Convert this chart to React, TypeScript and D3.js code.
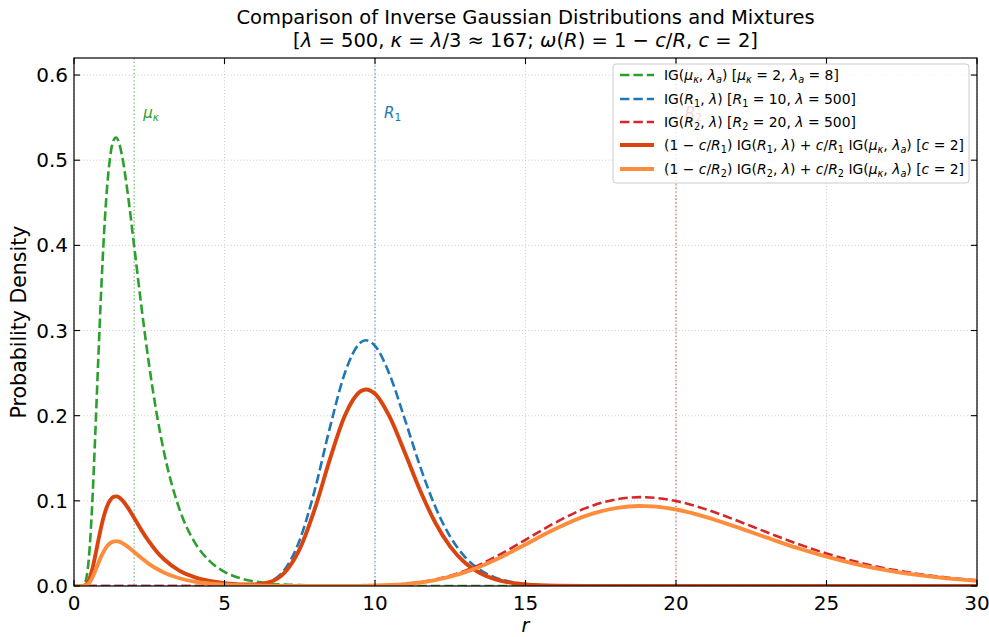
import * as d3 from "d3";

// shared grid of r values
const rGrid = [
  0, 0.2, 0.3, 0.4, 0.5, 0.6, 0.7, 0.8, 0.9, 1.0, 1.1, 1.2, 1.3, 1.4, 1.5, 1.6, 1.8, 2.0,
  2.25, 2.5, 2.75, 3.0, 3.5, 4.0, 4.5, 5.0, 5.5, 6.0, 6.5, 7.0, 7.5, 8.0, 8.5, 9.0, 9.5,
  9.7, 10, 10.5, 11, 11.5, 12, 12.5, 13, 13.5, 14, 14.5, 15, 16, 17, 18, 18.8, 19, 20, 21,
  22, 23, 24, 25, 26, 27, 28, 29, 30,
];

const igKappa = [
  0, 0, 0.0005, 0.0074, 0.0355, 0.0926, 0.1723, 0.2607, 0.3445, 0.4151, 0.4684, 0.5036,
  0.5223, 0.5267, 0.5199, 0.5045, 0.457, 0.3989, 0.3252, 0.2583, 0.2017, 0.1556, 0.0906,
  0.0519, 0.0295, 0.0167, 0.0094, 0.0053, 0.003, 0.0017, 0.001, 0.00055, 0.0003, 0.00018,
  0.0001, 0.00009, 0.00006, 0.00003, 0.00002, 0, 0, 0, 0, 0, 0, 0, 0, 0, 0, 0, 0, 0, 0, 0,
  0, 0, 0, 0, 0, 0, 0, 0, 0,
];

const igR1 = [
  0, 0, 0, 0, 0, 0, 0, 0, 0, 0, 0, 0, 0, 0, 0, 0, 0, 0, 0, 0, 0, 0, 0, 0, 0, 0.000003,
  0.00007, 0.00077, 0.00484, 0.01935, 0.05408, 0.11295, 0.18573, 0.25026, 0.28526, 0.2885,
  0.28209, 0.24704, 0.19481, 0.14026, 0.09326, 0.05783, 0.03371, 0.01861, 0.00978, 0.00492,
  0.00238, 0.0005, 0.00009, 0.00002, 0, 0, 0, 0, 0, 0, 0, 0, 0, 0, 0, 0, 0,
];

const igR2 = [
  0, 0, 0, 0, 0, 0, 0, 0, 0, 0, 0, 0, 0, 0, 0, 0, 0, 0, 0, 0, 0, 0, 0, 0, 0, 0, 0, 0, 0, 0,
  0, 0.000005, 0.00002, 0.00007, 0.00022, 0.00032, 0.00055, 0.00122, 0.00245, 0.00451,
  0.00766, 0.01212, 0.01805, 0.02543, 0.03414, 0.04386, 0.05418, 0.07461, 0.09142, 0.10166,
  0.10432, 0.10423, 0.09974, 0.08998, 0.07716, 0.06333, 0.05002, 0.0382, 0.02832, 0.02045,
  0.01443, 0.00997, 0.00676,
];

const mixR1 = [
  0, 0, 0.0001, 0.0015, 0.0071, 0.0185, 0.0345, 0.0521, 0.0689, 0.083, 0.0937, 0.1007,
  0.1045, 0.1053, 0.104, 0.1009, 0.0914, 0.0798, 0.065, 0.0517, 0.0403, 0.0311, 0.0181,
  0.0104, 0.0059, 0.0033, 0.0019, 0.0017, 0.0045, 0.0158, 0.0435, 0.0905, 0.1486, 0.2002,
  0.2282, 0.2308, 0.2257, 0.1976, 0.1558, 0.1122, 0.0746, 0.0463, 0.027, 0.0149, 0.0078,
  0.0039, 0.0019, 0.0004, 0.0001, 0, 0, 0, 0, 0, 0, 0, 0, 0, 0, 0, 0, 0, 0,
];

const mixR2 = [
  0, 0, 0.00005, 0.0007, 0.0035, 0.0093, 0.0172, 0.0261, 0.0345, 0.0415, 0.0468, 0.0504,
  0.0522, 0.0527, 0.052, 0.0505, 0.0457, 0.0399, 0.0325, 0.0258, 0.0202, 0.0156, 0.0091,
  0.0052, 0.0029, 0.0017, 0.0009, 0.0005, 0.0003, 0.0002, 0.0001, 0.00006, 0.00005, 0.00008,
  0.0002, 0.0003, 0.0005, 0.0011, 0.0022, 0.0041, 0.0069, 0.0109, 0.0162, 0.0229, 0.0307,
  0.0395, 0.0488, 0.0671, 0.0823, 0.0915, 0.0939, 0.0938, 0.0898, 0.081, 0.0694, 0.057,
  0.045, 0.0344, 0.0255, 0.0184, 0.013, 0.009, 0.0061,
];

const xTicks = [0, 5, 10, 15, 20, 25, 30];
const yTicks = [0, 0.1, 0.2, 0.3, 0.4, 0.5, 0.6];

const W = 989;
const H = 637;
const FONT = "DejaVu Sans, sans-serif";
const m = { left: 74, right: 977, top: 58, bottom: 586 };

const x = d3.scaleLinear().domain([0, 30]).range([m.left, m.right]);
const y = d3.scaleLinear().domain([0, 0.62]).range([m.bottom, m.top]);

type Part = { t: string; i?: boolean; sub?: boolean };

// poor man's mathtext: italic parts and subscripts as tspans
function MathText({ px, py, parts, size, anchor = "start", fill = "#000" }: any) {
  let inSub = false;
  return (
    <text x={px} y={py} fontSize={size} fontFamily={FONT} textAnchor={anchor} fill={fill}>
      {parts.map((p: Part, k: number) => {
        let dy = 0;
        if (p.sub && !inSub) dy = size * 0.22;
        if (!p.sub && inSub) dy = -size * 0.22;
        inSub = !!p.sub;
        return (
          <tspan
            key={k}
            dy={dy}
            fontStyle={p.i ? "italic" : "normal"}
            fontSize={p.sub ? size * 0.7 : size}
          >
            {p.t}
          </tspan>
        );
      })}
    </text>
  );
}

const series = [
  {
    vals: igKappa,
    color: "#2ca02c",
    dash: true,
    label: [
      { t: "IG(" }, { t: "μ", i: true }, { t: "κ", i: true, sub: true }, { t: ", " },
      { t: "λ", i: true }, { t: "a", i: true, sub: true }, { t: ") [" }, { t: "μ", i: true },
      { t: "κ", i: true, sub: true }, { t: " = 2, " }, { t: "λ", i: true },
      { t: "a", i: true, sub: true }, { t: " = 8]" },
    ],
  },
  {
    vals: igR1,
    color: "#1f77b4",
    dash: true,
    label: [
      { t: "IG(" }, { t: "R", i: true }, { t: "1", sub: true }, { t: ", " }, { t: "λ", i: true },
      { t: ") [" }, { t: "R", i: true }, { t: "1", sub: true }, { t: " = 10, " },
      { t: "λ", i: true }, { t: " = 500]" },
    ],
  },
  {
    vals: igR2,
    color: "#d62728",
    dash: true,
    label: [
      { t: "IG(" }, { t: "R", i: true }, { t: "2", sub: true }, { t: ", " }, { t: "λ", i: true },
      { t: ") [" }, { t: "R", i: true }, { t: "2", sub: true }, { t: " = 20, " },
      { t: "λ", i: true }, { t: " = 500]" },
    ],
  },
  {
    vals: mixR1,
    color: "#d9440f",
    dash: false,
    label: [
      { t: "(1 − " }, { t: "c", i: true }, { t: "/" }, { t: "R", i: true }, { t: "1", sub: true },
      { t: ") IG(" }, { t: "R", i: true }, { t: "1", sub: true }, { t: ", " }, { t: "λ", i: true },
      { t: ") + " }, { t: "c", i: true }, { t: "/" }, { t: "R", i: true }, { t: "1", sub: true },
      { t: " IG(" }, { t: "μ", i: true }, { t: "κ", i: true, sub: true }, { t: ", " },
      { t: "λ", i: true }, { t: "a", i: true, sub: true }, { t: ") [" }, { t: "c", i: true },
      { t: " = 2]" },
    ],
  },
  {
    vals: mixR2,
    color: "#fd8d3c",
    dash: false,
    label: [
      { t: "(1 − " }, { t: "c", i: true }, { t: "/" }, { t: "R", i: true }, { t: "2", sub: true },
      { t: ") IG(" }, { t: "R", i: true }, { t: "2", sub: true }, { t: ", " }, { t: "λ", i: true },
      { t: ") + " }, { t: "c", i: true }, { t: "/" }, { t: "R", i: true }, { t: "2", sub: true },
      { t: " IG(" }, { t: "μ", i: true }, { t: "κ", i: true, sub: true }, { t: ", " },
      { t: "λ", i: true }, { t: "a", i: true, sub: true }, { t: ") [" }, { t: "c", i: true },
      { t: " = 2]" },
    ],
  },
];

const markers = [
  { at: 2, color: "#2ca02c", label: [{ t: "μ", i: true }, { t: "κ", i: true, sub: true }] },
  { at: 10, color: "#1f77b4", label: [{ t: "R", i: true }, { t: "1", sub: true }] },
  { at: 20, color: "#d62728", label: [{ t: "R", i: true }, { t: "2", sub: true }] },
];

const titleLine2: Part[] = [
  { t: "[" }, { t: "λ", i: true }, { t: " = 500,  " }, { t: "κ", i: true }, { t: " = " },
  { t: "λ", i: true }, { t: "/3 ≈ 167;  " }, { t: "ω", i: true }, { t: "(" }, { t: "R", i: true },
  { t: ") = 1 − " }, { t: "c", i: true }, { t: "/" }, { t: "R", i: true }, { t: ",  " },
  { t: "c", i: true }, { t: " = 2]" },
];

export default function App() {
  const line = d3
    .line<number>()
    .x((_, i) => x(rGrid[i]))
    .y((d) => y(d))
    .curve(d3.curveMonotoneX);

  const tickLen = 6;
  const legY = [75, 99, 122, 145, 169];
  const dashW = 2.6;
  const solidW = 3.9;
  const dashPat = "9.4,4";

  return (
    <svg
      width={W}
      height={H}
      style={{ position: "absolute", left: 0, top: 0, background: "#fff" }}
      fontFamily={FONT}
    >
      <defs>
        <clipPath id="plot">
          <rect x={m.left} y={m.top} width={m.right - m.left} height={m.bottom - m.top} />
        </clipPath>
      </defs>

      {/* grid */}
      <g stroke="#b0b0b0" strokeWidth={0.8} strokeDasharray="1,2.2" opacity={0.8}>
        {xTicks.map((t) => (
          <line key={"gx" + t} x1={x(t)} x2={x(t)} y1={m.top} y2={m.bottom} />
        ))}
        {yTicks.map((t) => (
          <line key={"gy" + t} x1={m.left} x2={m.right} y1={y(t)} y2={y(t)} />
        ))}
      </g>

      {/* reference lines */}
      {markers.map((mk) => (
        <g key={mk.at}>
          <line
            x1={x(mk.at)}
            x2={x(mk.at)}
            y1={m.top}
            y2={m.bottom}
            stroke={mk.color}
            strokeWidth={1.4}
            strokeDasharray="1.4,2.3"
            opacity={0.6}
          />
          <MathText
            px={x(mk.at + 0.3)}
            py={y(0.55)}
            parts={mk.label}
            size={15}
            fill={mk.color}
          />
        </g>
      ))}

      {/* curves */}
      <g clipPath="url(#plot)" fill="none">
        {series.map((s, k) => (
          <path
            key={k}
            d={line(s.vals) || ""}
            stroke={s.color}
            strokeWidth={s.dash ? dashW : solidW}
            strokeDasharray={s.dash ? dashPat : undefined}
            strokeLinejoin="round"
          />
        ))}
      </g>

      {/* frame and ticks */}
      <rect
        x={m.left}
        y={m.top}
        width={m.right - m.left}
        height={m.bottom - m.top}
        fill="none"
        stroke="#000"
        strokeWidth={1.2}
      />
      <g stroke="#000" strokeWidth={1.1}>
        {xTicks.map((t) => (
          <g key={"tx" + t}>
            <line x1={x(t)} x2={x(t)} y1={m.bottom} y2={m.bottom - tickLen} />
            <line x1={x(t)} x2={x(t)} y1={m.top} y2={m.top + tickLen} />
          </g>
        ))}
        {yTicks.map((t) => (
          <g key={"ty" + t}>
            <line x1={m.left} x2={m.left + tickLen} y1={y(t)} y2={y(t)} />
            <line x1={m.right} x2={m.right - tickLen} y1={y(t)} y2={y(t)} />
          </g>
        ))}
      </g>
      <g fontSize={20} fill="#000">
        {xTicks.map((t) => (
          <text key={"lx" + t} x={x(t)} y={m.bottom + 23.5} textAnchor="middle">
            {t}
          </text>
        ))}
        {yTicks.map((t) => (
          <text key={"ly" + t} x={m.left - 6} y={y(t) + 7} textAnchor="end">
            {d3.format(".1f")(t)}
          </text>
        ))}
      </g>

      {/* axis labels */}
      <text x={x(15)} y={632.3} textAnchor="middle" fontSize={19} fontStyle="italic">
        r
      </text>
      <text
        transform={`translate(26,${(m.top + m.bottom) / 2}) rotate(-90)`}
        textAnchor="middle"
        fontSize={20.5}
      >
        Probability Density
      </text>

      {/* title */}
      <text x={(m.left + m.right) / 2} y={24} textAnchor="middle" fontSize={19.5}>
        Comparison of Inverse Gaussian Distributions and Mixtures
      </text>
      <MathText px={(m.left + m.right) / 2} py={47} parts={titleLine2} size={19.5} anchor="middle" />

      {/* legend */}
      <rect
        x={613}
        y={64}
        width={356}
        height={119}
        rx={3}
        fill="#fff"
        fillOpacity={0.8}
        stroke="#cccccc"
      />
      {series.map((s, k) => (
        <g key={"leg" + k}>
          <line
            x1={620}
            x2={654}
            y1={legY[k]}
            y2={legY[k]}
            stroke={s.color}
            strokeWidth={s.dash ? dashW : solidW}
            strokeDasharray={s.dash ? dashPat : undefined}
          />
          <MathText px={664} py={legY[k] + 5} parts={s.label} size={13.9} />
        </g>
      ))}
    </svg>
  );
}
